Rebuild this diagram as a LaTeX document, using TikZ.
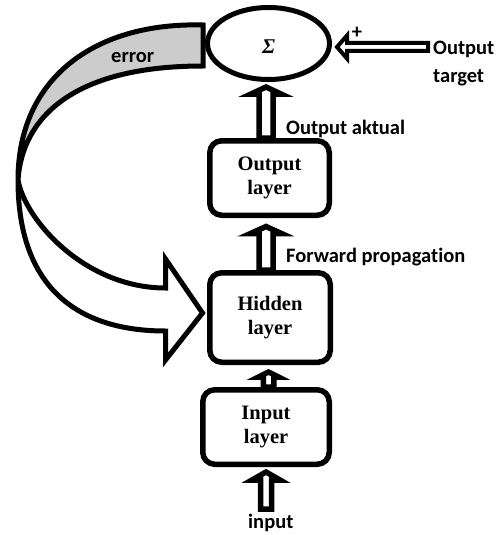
\documentclass[tikz,border=0pt]{standalone}
\usepackage{fontspec}
\setmainfont{Liberation Serif}
\newfontfamily\calib[Ligatures=NoCommon]{Carlito}
\usetikzlibrary{calc,shapes.geometric,backgrounds}
\definecolor{errgray}{RGB}{204,204,204}
% vertical block arrow pointing up: #1 base, #2 tip, #3 shaft half width, #4 head half width, #5 head length
\newcommand\uparrowblk[5]{%
  \path[barrow] ($(#1)+(-#3,0)$) -- ($(#2)+(-#3,#5)$) -- ($(#2)+(-#4,#5)$) -- (#2)
    -- ($(#2)+(#4,#5)$) -- ($(#2)+(#3,#5)$) -- ($(#1)+(#3,0)$) -- cycle;}
% horizontal block arrow pointing left: #1 base (right end), #2 tip
\newcommand\leftarrowblk[5]{%
  \path[barrow,line width=4pt] ($(#1)+(0,-#3)$) -- ($(#2)+(#5,-#3)$) -- ($(#2)+(#5,-#4)$) -- (#2)
    -- ($(#2)+(#5,#4)$) -- ($(#2)+(#5,#3)$) -- ($(#1)+(0,#3)$) -- cycle;}
\begin{document}
\begin{tikzpicture}[x=1pt,y=-1pt,line join=miter,
  box/.style={draw,line width=5.5pt,rounded corners=12pt,fill=white,align=center,
    font=\bfseries\fontsize{20.5}{24}\selectfont,inner sep=0pt},
  barrow/.style={draw,fill=white,line width=5.5pt},
  errband/.style={draw,line width=5pt},
  lbl/.style={font=\calib\bfseries\fontsize{20.5}{27}\selectfont,inner sep=0pt}]
\useasboundingbox (0,0) rectangle (502,535);

% nodes
\node[draw,ellipse,line width=5pt,fill=white,minimum width=122pt,minimum height=72pt,inner sep=0pt] (sig) at (268.5,43.5) {};
\node[inner sep=0pt,font=\bfseries\itshape\fontsize{21}{24}\selectfont] (sigma) at (268.5,46.5) {Σ};
\node[box,minimum width=119.5pt,minimum height=74.5pt] (out) at (269.5,178) {Output\\layer};
\node[box,minimum width=120.5pt,minimum height=89.5pt] (hid) at (270,317.5) {Hidden\\layer};
\node[box,minimum width=126.5pt,minimum height=74.5pt] (inp) at (266,427) {Input\\layer};

% labels
\node[lbl,anchor=base west] (oa) at (286,134) {Output aktual};
\node[lbl,anchor=base west] (fp) at (286,262) {Forward propagation};
\node[lbl,anchor=base west] (ot1) at (433,55) {Output};
\node[lbl,anchor=base west] (ot2) at (433,82) {target};
\node[lbl,anchor=base west] (err) at (111,63) {error};
\node[lbl,anchor=base west] (inl) at (248,528) {input};
\node[lbl] (plus) at (357,33) {+};

% helper coordinates
\coordinate (colA) at (266,0);
\coordinate (colB) at (268.5,0);
\coordinate (a1b) at (out.north -| colA);
\coordinate (a1s) at (sig.south -| colA);
\coordinate (a1t) at ($(a1s)+(0,5)$);
\coordinate (a2b) at (hid.north -| colA);
\coordinate (a2s) at (out.south -| colA);
\coordinate (a2t) at ($(a2s)+(0,8.5)$);
\coordinate (a3b) at (inp.north -| colB);
\coordinate (a3s) at (hid.south -| colB);
\coordinate (a3t) at ($(a3s)+(0,7)$);
\coordinate (inbot) at (266,509);
\coordinate (a4s) at (inp.south -| colA);
\coordinate (a4t) at ($(a4s)+(0,5)$);
\coordinate (tgtend) at (428,47);
\coordinate (tgttip) at ($(sig.east)+(5,3.5)$);
\coordinate (e1) at ($(sig.west)+(-2,-18.5)$);
\coordinate (e2) at ($(sig.west)+(-2,22.5)$);
\coordinate (ex) at (18,180);
\coordinate (etip) at ($(hid.west)+(-4.5,-4.5)$);

\begin{scope}[on background layer]
  \fill[white] (0,0) rectangle (502,535);
  \uparrowblk{a1b}{a1t}{7}{15}{7}
  \uparrowblk{a2b}{a2t}{7}{15.5}{7}
  \uparrowblk{a3b}{a3t}{5.25}{10}{5}
  \uparrowblk{inbot}{a4t}{5.5}{14}{8}
  \leftarrowblk{tgtend}{tgttip}{4}{11.5}{10}
  % error feedback arrow
  \path[errband,fill=errgray] (e1) .. controls (95,22) and (18,78) .. (ex)
     .. controls (22,120) and (70,66) .. (e2) -- cycle;
  \path[errband,fill=white] (ex) .. controls (18,290) and (80,331) .. ($(etip)+(-37,18)$)
     -- ($(etip)+(-37,47)$) -- (etip) -- ($(etip)+(-37,-54)$) -- ($(etip)+(-37,-25)$)
     .. controls (85,288) and (25,220) .. (ex);
\end{scope}
\end{tikzpicture}
\end{document}
